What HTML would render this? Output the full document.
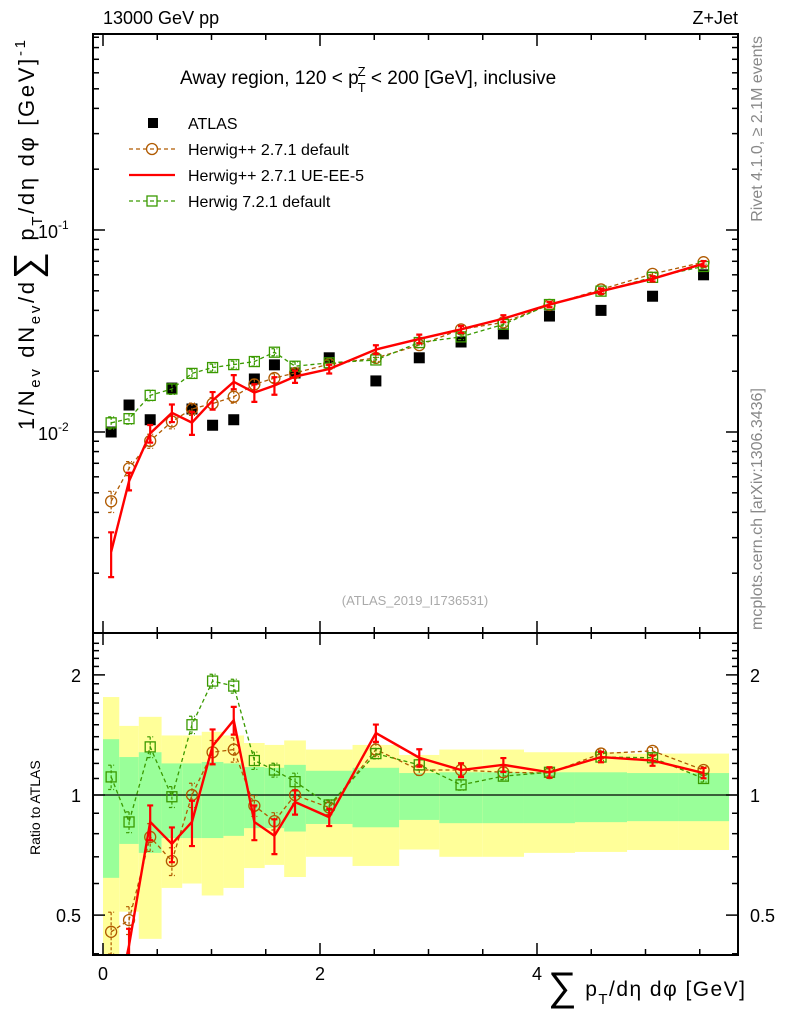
<!DOCTYPE html>
<html><head><meta charset="utf-8"><style>
html,body{margin:0;padding:0;background:#fff;overflow:hidden}
svg{display:block;font-family:"Liberation Sans",sans-serif}
</style></head><body>
<svg id="c" width="786" height="1024" viewBox="0 0 786 1024" xmlns="http://www.w3.org/2000/svg">
<g id="bands"></g>
<g id="grid"></g>
<g id="series"></g>
<g id="frame"></g>
<text x="103" y="24" font-size="18">13000 GeV pp</text>
<text x="738" y="24" font-size="18" text-anchor="end">Z+Jet</text>
<text x="180" y="84" font-size="19">Away region, 120 &lt; p<tspan font-size="13" dx="-1" dy="8">T</tspan><tspan font-size="13" dx="-8" dy="-16">Z</tspan><tspan dy="8"> &lt; 200 [GeV], inclusive</tspan></text>
<text x="415" y="605" font-size="13" fill="#aaa" text-anchor="middle">(ATLAS_2019_I1736531)</text>
<text transform="translate(762,36) rotate(-90)" font-size="16" fill="#888" text-anchor="end">Rivet 4.1.0, ≥ 2.1M events</text>
<text transform="translate(762,630) rotate(-90)" font-size="16" fill="#888">mcplots.cern.ch [arXiv:1306.3436]</text>
<text transform="translate(34,430) rotate(-90)" font-size="22" textLength="390" lengthAdjust="spacing">1/N<tspan font-size="15" dy="6">ev</tspan><tspan dy="-6"> dN</tspan><tspan font-size="15" dy="6">ev</tspan><tspan dy="-6">/d</tspan><tspan font-size="38" dy="6">∑</tspan><tspan dy="-6"> p</tspan><tspan font-size="15" dy="8">T</tspan><tspan dy="-8">/dη dφ  [GeV]</tspan><tspan font-size="15" dy="-9">-1</tspan></text>
<text transform="translate(40,855) rotate(-90)" font-size="14">Ratio to ATLAS</text>
<text x="548" y="996" font-size="21" textLength="197" lengthAdjust="spacing"><tspan font-size="40" dy="4">∑</tspan><tspan dy="-4"> p</tspan><tspan font-size="15" dy="8">T</tspan><tspan dy="-8">/dη dφ [GeV]</tspan></text>
<g id="legend">
<rect x="148" y="118" width="10" height="10" fill="#000"/>
<text x="188" y="129" font-size="16">ATLAS</text>
<line x1="129" y1="149" x2="175" y2="149" stroke="#b05a00" stroke-width="1.3" stroke-dasharray="4,3"/>
<circle cx="152" cy="149" r="5.5" fill="none" stroke="#b05a00" stroke-width="1.3"/>
<text x="188" y="155" font-size="16">Herwig++ 2.7.1 default</text>
<line x1="129" y1="175" x2="175" y2="175" stroke="#f00" stroke-width="2.2"/>
<text x="188" y="181" font-size="16">Herwig++ 2.7.1 UE-EE-5</text>
<line x1="129" y1="201" x2="175" y2="201" stroke="#3a9a00" stroke-width="1.3" stroke-dasharray="4,3"/>
<rect x="147" y="196" width="10" height="10" fill="none" stroke="#3a9a00" stroke-width="1.3"/>
<text x="188" y="207" font-size="16">Herwig 7.2.1 default</text>
</g>
</svg>
<script>
const edges=[0,0.15,0.33,0.54,0.73,0.91,1.11,1.3,1.49,1.67,1.87,2.3,2.73,3.1,3.5,3.88,4.35,4.83,5.3,5.77];
const xs=[0.075,0.24,0.435,0.635,0.82,1.01,1.205,1.395,1.58,1.77,2.085,2.515,2.915,3.3,3.69,4.115,4.59,5.065,5.535];
const atlas=[0.0100,0.0136,0.0115,0.0165,0.0130,0.0108,0.0115,0.0183,0.0215,0.0196,0.0233,0.0179,0.0233,0.0279,0.0306,0.0375,0.0400,0.0470,0.0600];
const ratioRed=[0.255,0.42,0.856,0.754,0.856,1.327,1.54,0.856,0.79,0.96,0.88,1.43,1.24,1.155,1.19,1.14,1.245,1.22,1.135];
const ratioBrown=[0.454,0.486,0.785,0.683,1.0,1.28,1.30,0.94,0.86,1.0,0.93,1.30,1.155,1.155,1.14,1.135,1.27,1.29,1.155];
const ratioGreen=[1.11,0.856,1.32,0.99,1.50,1.93,1.875,1.22,1.155,1.08,0.944,1.27,1.19,1.06,1.115,1.14,1.245,1.24,1.10];
const errRed=[0.25,0.1,0.1,0.1,0.13,0.1,0.08,0.1,0.1,0.07,0.05,0.05,0.05,0.04,0.04,0.03,0.03,0.03,0.03];
const errBrown=[0.12,0.08,0.08,0.08,0.07,0.07,0.07,0.06,0.05,0.05,0.04,0.04,0.03,0.03,0.03,0.03,0.02,0.02,0.02];
const errGreen=[0.07,0.06,0.06,0.06,0.05,0.04,0.04,0.05,0.04,0.05,0.03,0.03,0.03,0.03,0.02,0.02,0.02,0.02,0.02];
const yelHi=[1.76,1.49,1.57,1.41,1.41,1.44,1.41,1.35,1.335,1.37,1.30,1.335,1.26,1.30,1.30,1.28,1.28,1.27,1.27];
const yelLo=[0.35,0.51,0.436,0.585,0.60,0.56,0.585,0.656,0.668,0.623,0.70,0.664,0.73,0.70,0.70,0.716,0.72,0.728,0.728];
const grnHi=[1.38,1.245,1.28,1.20,1.20,1.21,1.20,1.175,1.17,1.19,1.15,1.17,1.135,1.14,1.14,1.14,1.14,1.135,1.135];
const grnLo=[0.62,0.754,0.716,0.78,0.78,0.78,0.79,0.826,0.826,0.81,0.846,0.83,0.866,0.85,0.85,0.85,0.855,0.86,0.86];
const xTicks=[0,2,4];

const NS="http://www.w3.org/2000/svg";
const L=93,R=738,T=34,MB=633,RB=955;
function X(v){return 103+108.5*v;}
function YM(v){return 432-202*(Math.log10(v)+2);}
function YR(v){return 795-399*Math.log10(v);}
function mk(tag,at,parent){const e=document.createElementNS(NS,tag);for(const k in at)e.setAttribute(k,at[k]);parent.appendChild(e);return e;}
const bands=document.getElementById('bands'),grid=document.getElementById('grid'),ser=document.getElementById('series'),frame=document.getElementById('frame');

const defs=mk('defs',{},document.getElementById('c'));
const cp=mk('clipPath',{id:'rc'},defs);mk('rect',{x:L,y:MB,width:R-L,height:RB-MB},cp);
const cpm=mk('clipPath',{id:'mc'},defs);mk('rect',{x:L,y:T,width:R-L,height:MB-T},cpm);
bands.setAttribute('clip-path','url(#rc)');
for(let i=0;i<xs.length;i++){
  const x0=X(edges[i]),x1=X(edges[i+1]);
  let r=mk('rect',{x:x0,y:YR(yelHi[i]),width:x1-x0,height:YR(yelLo[i])-YR(yelHi[i]),fill:'#ffff99'},bands);
  
  r=mk('rect',{x:x0,y:YR(grnHi[i]),width:x1-x0,height:YR(grnLo[i])-YR(grnHi[i]),fill:'#99ff99'},bands);
  
}
let one=mk('line',{x1:L,x2:R,y1:YR(1),y2:YR(1),stroke:'#000','stroke-width':1.2},grid);


const ga=mk('g',{'clip-path':'url(#mc)'},ser);

atlas.forEach((v,i)=>{const r=mk('rect',{x:X(xs[i])-5.5,y:YM(v)-5.5,width:11,height:11,fill:'#000'},ga);
});

function series(ratio,err,color,width,dash,marker,name){
  [['m',YM,'url(#mc)'],['r',YR,'url(#rc)']].forEach(([p,Y,clip])=>{
    const g=mk('g',{'clip-path':clip},ser);
    
    const vals=ratio.map((r,i)=>p==='m'?r*atlas[i]:r);
    const pts=vals.map((v,i)=>X(xs[i])+','+Y(v)).join(' ');
    const pl=mk('polyline',{points:pts,fill:'none',stroke:color,'stroke-width':width},g);
    if(dash)pl.setAttribute('stroke-dasharray',dash);
    
    vals.forEach((v,i)=>{
      const x=X(xs[i]),y1=Y(v*(1+err[i])),y2=Y(v*(1-err[i]));
      const eb=mk('path',{d:`M${x},${y1}V${y2}M${x-3},${y1}H${x+3}M${x-3},${y2}H${x+3}`,stroke:color,'stroke-width':width>2?2.2:1.2,fill:'none'},g);
      if(dash)eb.setAttribute('stroke-dasharray','3,2');
      
      let m=null;
      if(marker==='circle')m=mk('circle',{cx:x,cy:Y(v),r:5.5,fill:'none',stroke:color,'stroke-width':1.3},g);
      if(marker==='square')m=mk('rect',{x:x-5,y:Y(v)-5,width:10,height:10,fill:'none',stroke:color,'stroke-width':1.3},g);
      if(m){}
    });
  });
}
series(ratioBrown,errBrown,'#b05a00',1.3,'4,3','circle','herwigpp-default');
series(ratioGreen,errGreen,'#3a9a00',1.3,'4,3','square','herwig7-default');
series(ratioRed,errRed,'#ff0000',2.4,null,null,'herwigpp-ueee5');

[[T,MB],[MB,RB]].forEach(([a,b],k)=>{
  const f=mk('rect',{x:L,y:a,width:R-L,height:b-a,fill:'none',stroke:'#000','stroke-width':2},frame);
  
  for(let v=0;v<=5.5;v+=0.5){const x=X(v),len=(Math.abs(v%2)<1e-6)?12:6;
    mk('line',{x1:x,x2:x,y1:b,y2:b-len,stroke:'#000','stroke-width':1.5},frame);
    mk('line',{x1:x,x2:x,y1:a,y2:a+len,stroke:'#000','stroke-width':1.5},frame);}
});
for(let d=-3;d<=-1;d++)for(let m=1;m<=9;m++){const v=m*Math.pow(10,d);const y=YM(v);if(y<T||y>MB)continue;
  const len=m===1?12:6;mk('line',{x1:L,x2:L+len,y1:y,y2:y,stroke:'#000','stroke-width':1.5},frame);mk('line',{x1:R,x2:R-len,y1:y,y2:y,stroke:'#000','stroke-width':1.5},frame);}
for(let v=0.4;v<=2.5;v+=0.1){const y=YR(v);if(y<MB||y>RB)continue;
  const major=[0.5,1,2].some(q=>Math.abs(q-v)<1e-6);const len=major?12:6;
  mk('line',{x1:L,x2:L+len,y1:y,y2:y,stroke:'#000','stroke-width':1.5},frame);mk('line',{x1:R,x2:R-len,y1:y,y2:y,stroke:'#000','stroke-width':1.5},frame);}
function txt(x,y,s,anchor,size,name){const t=mk('text',{x:x,y:y,'font-size':size,'text-anchor':anchor},frame);t.textContent=s;return t;}
xTicks.forEach(v=>txt(X(v),980,String(v),'middle',18,'x-tick-label'));
[[2,'2'],[1,'1'],[0.5,'0.5']].forEach(([v,s])=>{txt(L-12,YR(v)+7,s,'end',18,'ratio-y-tick-label');txt(R+12,YR(v)+7,s,'start',18,'ratio-y-tick-label-right');});
[[-1,'-1'],[-2,'-2']].forEach(([d,s])=>{const t=txt(L-55,YM(Math.pow(10,d))+8,'10','start',18,'main-y-tick-label');
  const sp=document.createElementNS(NS,'tspan');sp.setAttribute('font-size','12');sp.setAttribute('dy','-9');sp.textContent=s;t.appendChild(sp);});
</script>
</body></html>
